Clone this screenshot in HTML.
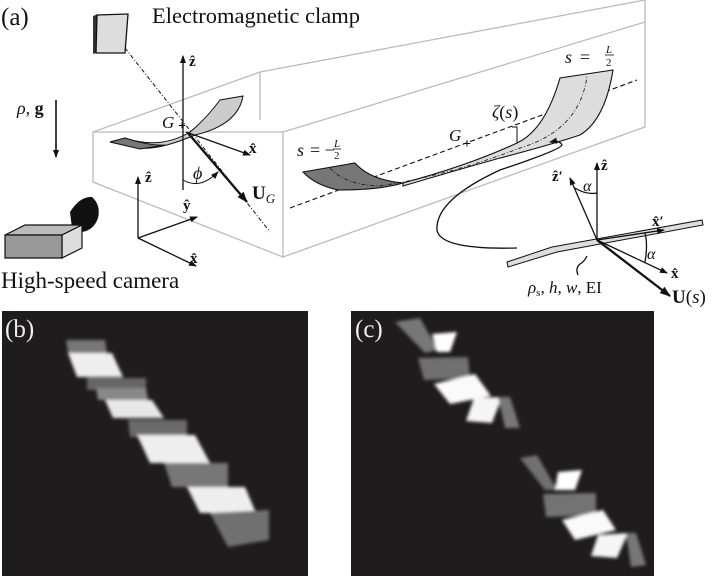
<!DOCTYPE html>
<html><head><meta charset="utf-8"><style>
html,body{margin:0;padding:0;background:#fff;width:713px;height:576px;overflow:hidden}
svg{display:block}
text{font-family:"Liberation Serif",serif;fill:#111}
</style></head><body>
<svg width="713" height="576" viewBox="0 0 713 576" xmlns="http://www.w3.org/2000/svg">
<defs>
<marker id="ar" markerWidth="8" markerHeight="8" refX="7" refY="4" orient="auto" markerUnits="userSpaceOnUse"><path d="M0,1 L8,4 L0,7 Z" fill="#111"/></marker>
<marker id="arb" markerWidth="11" markerHeight="10" refX="10" refY="5" orient="auto" markerUnits="userSpaceOnUse"><path d="M0,1 L11,5 L0,9 Z" fill="#111"/></marker>
<filter id="bl" x="-10%" y="-10%" width="120%" height="120%"><feGaussianBlur stdDeviation="1.6"/></filter>
</defs>
<!-- boxes -->
<g stroke="#bbb" stroke-width="1.3" fill="none">
<path d="M93,132 L283,132 L283,257 L93,182 Z"/>
<path d="M93,132 L260,72 L260,120"/>
<path d="M260,72 L645,0 L645,127 L283,257"/>
<path d="M283,132 L645,22"/>
</g>
<text x="1" y="25" font-size="25">(a)</text>
<text x="152" y="23" font-size="22.5">Electromagnetic clamp</text>
<!-- clamp -->
<path d="M93,16 L98,14 L98,52 L93,54 Z" fill="#333"/>
<path d="M97,15 L128,14 L125,53 L96,53 Z" fill="#ddd" stroke="#111" stroke-width="1.3"/>
<path d="M125,48 L270,232" stroke="#111" stroke-width="1" stroke-dasharray="4,2,1,2"/>
<!-- gravity -->
<text x="17" y="114" font-size="18" font-style="italic">ρ, <tspan font-weight="bold" font-style="normal">g</tspan></text>
<line x1="56" y1="100" x2="56" y2="157" stroke="#111" stroke-width="1.6" marker-end="url(#ar)"/>
<!-- small ribbon -->
<path d="M110,142 L125,138 Q160,150 190,132 Q205,120 220,100 L243,96 Q238,125 195,135 Q160,150 140,148 Z" fill="#ccc" stroke="#111" stroke-width="1"/>
<path d="M110,142 L125,138 Q150,146 165,145 L140,149 Z" fill="#777" stroke="#111" stroke-width="1"/>
<line x1="183" y1="190" x2="183" y2="56" stroke="#111" stroke-width="1.3" marker-end="url(#ar)"/>
<text x="189" y="66" font-size="15" font-weight="bold">ẑ</text>
<text x="162" y="128" font-size="17" font-style="italic">G</text>
<text x="178" y="130" font-size="14" font-weight="bold">+</text>
<line x1="186" y1="132" x2="250" y2="155" stroke="#111" stroke-width="1.3" marker-end="url(#ar)"/>
<text x="249" y="153" font-size="15" font-weight="bold">x̂</text>
<line x1="188" y1="133" x2="247" y2="202" stroke="#111" stroke-width="2.3" marker-end="url(#arb)"/>
<path d="M183,180 Q200,190 218,172" fill="none" stroke="#111" stroke-width="1" marker-end="url(#ar)"/>
<text x="193" y="179" font-size="18" font-style="italic">ϕ</text>
<text x="252" y="199" font-size="19" font-weight="bold">U<tspan font-size="13" font-weight="normal" font-style="italic" dy="4">G</tspan></text>
<!-- lower axes -->
<g stroke="#111" stroke-width="1.3" fill="none">
<line x1="138" y1="238" x2="138" y2="177" marker-end="url(#ar)"/>
<line x1="138" y1="238" x2="196" y2="266" marker-end="url(#ar)"/>
<line x1="138" y1="238" x2="197" y2="217" marker-end="url(#ar)"/>
</g>
<text x="145" y="182" font-size="15" font-weight="bold">ẑ</text>
<text x="183" y="210" font-size="15" font-weight="bold">ŷ</text>
<text x="190" y="263" font-size="15" font-weight="bold">x̂</text>
<!-- camera -->
<path d="M70,212 Q80,196 92,197 Q101,205 98,218 Q94,230 82,232 L72,228 Z" fill="#111"/>
<path d="M5,235 L25,225 L82,225 L62,235 Z" fill="#bbb" stroke="#111" stroke-width="1.2"/>
<path d="M62,235 L82,225 L82,248 L62,258 Z" fill="#ddd" stroke="#111" stroke-width="1.2"/>
<path d="M5,235 L62,235 L62,258 L5,258 Z" fill="#999" stroke="#111" stroke-width="1.2"/>
<text x="1" y="288" font-size="23">High-speed camera</text>
<!-- big ribbon -->
<line x1="290" y1="208" x2="637" y2="80" stroke="#111" stroke-width="1.1" stroke-dasharray="5,3"/>
<path d="M403,183 Q470,165 517,143 Q545,130 560,78 L613,70 Q605,120 580,135 Q550,145 500,158 Q450,172 403,186 Z" fill="#ddd" stroke="#111" stroke-width="1.1"/>
<path d="M303,172 L355,163 Q370,180 403,183 Q380,190 338,190 Q315,185 303,172 Z" fill="#777" stroke="#111" stroke-width="1.1"/>
<path d="M330,168 Q345,185 380,186 Q450,175 520,148 Q580,130 587,76" fill="none" stroke="#111" stroke-width="0.8" stroke-dasharray="4,2,1,2"/>
<text x="297" y="156" font-size="18" font-style="italic">s</text><text x="310" y="156" font-size="18">= −</text>
<text x="334" y="147" font-size="11" font-style="italic">L</text><line x1="333" y1="149" x2="341" y2="149" stroke="#111" stroke-width="0.8"/><text x="334" y="159" font-size="11">2</text>
<text x="565" y="63" font-size="18" font-style="italic">s</text><text x="580" y="63" font-size="18">=</text>
<text x="606" y="53" font-size="11" font-style="italic">L</text><line x1="605" y1="55" x2="614" y2="55" stroke="#111" stroke-width="0.8"/><text x="606" y="66" font-size="11">2</text>
<text x="492" y="118" font-size="18"><tspan font-style="italic">ζ</tspan>(<tspan font-style="italic">s</tspan>)</text>
<path d="M512,127 L517,127 L517,143" fill="none" stroke="#111" stroke-width="1"/>
<text x="449" y="141" font-size="17" font-style="italic">G</text>
<text x="463" y="148" font-size="14" font-weight="bold">+</text>
<!-- loop -->
<path d="M517,248 Q440,250 437,230 Q435,200 500,170 Q560,150 562,145 Q560,140 550,142" fill="none" stroke="#111" stroke-width="1.3" marker-end="url(#ar)"/>
<!-- plate -->
<path d="M507,262 L552,247 L702,220 L703,225 L557,252 L508,267 Z" fill="#ddd" stroke="#111" stroke-width="1"/>
<g stroke="#111" stroke-width="1.3" fill="none">
<line x1="597" y1="240" x2="597" y2="163" marker-end="url(#ar)"/>
<line x1="597" y1="240" x2="570" y2="178" marker-end="url(#ar)"/>
<line x1="597" y1="240" x2="664" y2="230" marker-end="url(#ar)"/>
<line x1="597" y1="240" x2="667" y2="273" marker-end="url(#ar)"/>
<path d="M575,188 Q586,195 597,193"/>
<path d="M645,233 Q648,245 645,262"/>
<path d="M587,256 Q584,262 580,264 Q575,268 578,275"/>
</g>
<line x1="597" y1="240" x2="670" y2="296" stroke="#111" stroke-width="2.3" marker-end="url(#arb)"/>
<text x="552" y="181" font-size="15" font-weight="bold">ẑ′</text>
<text x="583" y="191" font-size="16" font-style="italic">α</text>
<text x="601" y="170" font-size="15" font-weight="bold">ẑ</text>
<text x="652" y="226" font-size="15" font-weight="bold">x̂′</text>
<text x="647" y="259" font-size="16" font-style="italic">α</text>
<text x="671" y="278" font-size="15" font-weight="bold">x̂</text>
<text x="528" y="293" font-size="17"><tspan font-style="italic">ρ</tspan><tspan font-size="11" dy="3">s</tspan><tspan dy="-3">, </tspan><tspan font-style="italic">h</tspan>, <tspan font-style="italic">w</tspan>, EI</text>
<text x="672" y="303" font-size="19"><tspan font-weight="bold">U</tspan>(<tspan font-style="italic">s</tspan>)</text>
<!-- panel b -->
<rect x="2" y="311" width="306" height="265" fill="#1e1c1c"/>
<text x="5" y="337" font-size="25" style="fill:#eee">(b)</text>
<g filter="url(#bl)">
<polygon points="66,340 105,340 107,353 68,353" fill="#777"/>
<polygon points="68,353 112,353 123,377 77,377" fill="#eee"/>
<polygon points="87,378 146,378 146,390 87,390" fill="#666"/>
<polygon points="96,388 146,388 148,400 98,400" fill="#888"/>
<polygon points="105,400 152,400 164,418 113,418" fill="#e8e8e8"/>
<polygon points="128,420 187,420 187,437 130,437" fill="#6a6a6a"/>
<polygon points="137,435 195,435 210,463 150,463" fill="#eee"/>
<polygon points="164,463 228,463 228,487 172,487" fill="#777"/>
<polygon points="187,487 245,487 256,513 200,513" fill="#eee"/>
<polygon points="210,513 269,510 269,540 228,547" fill="#6f6f6f"/>
</g>
<!-- panel c -->
<rect x="351" y="311" width="303" height="265" fill="#1e1c1c"/>
<text x="355" y="337" font-size="25" style="fill:#eee">(c)</text>
<g filter="url(#bl)">
<polygon points="395,322 420,318 438,350 425,353" fill="#777"/>
<polygon points="432,334 457,332 450,352 437,352" fill="#fff"/>
<polygon points="418,358 468,357 470,378 424,380" fill="#707070"/>
<polygon points="434,384 475,374 491,396 450,404" fill="#fafafa"/>
<polygon points="474,398 502,397 492,423 466,421" fill="#f5f5f5"/>
<polygon points="498,397 510,397 520,428 505,428" fill="#777"/>
<polygon points="520,458 537,455 557,490 545,490" fill="#6f6f6f"/>
<polygon points="558,472 582,470 575,490 555,490" fill="#fff"/>
<polygon points="543,494 596,493 596,515 546,517" fill="#737373"/>
<polygon points="562,520 603,510 616,530 575,540" fill="#fafafa"/>
<polygon points="598,535 628,533 617,558 591,556" fill="#f5f5f5"/>
<polygon points="626,533 636,533 646,565 631,567" fill="#777"/>
</g>
</svg>
</body></html>
